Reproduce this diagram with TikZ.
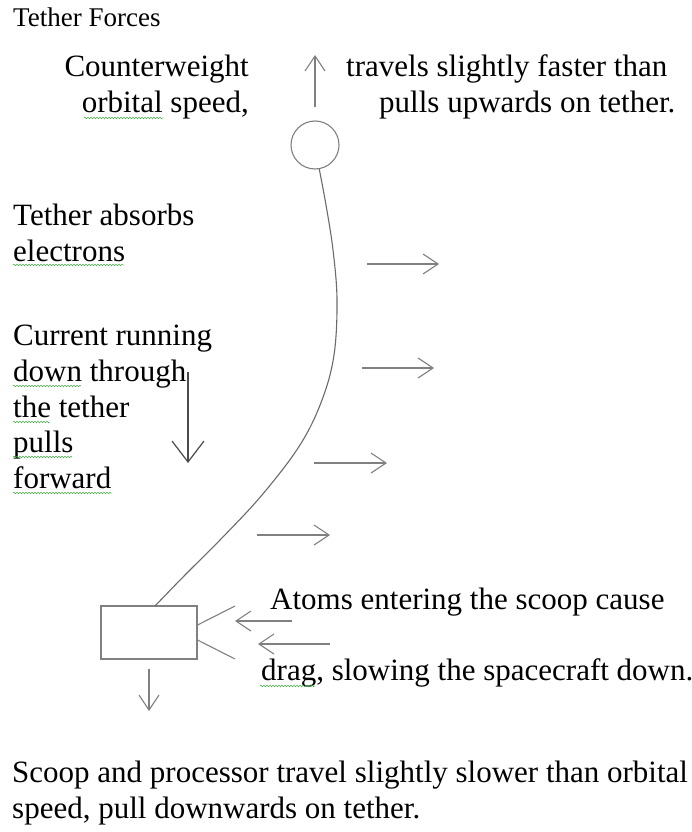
\documentclass[tikz,border=0pt]{standalone}
\usepackage{fontspec}
\setmainfont{Liberation Serif}
\usetikzlibrary{arrows.meta,decorations.pathmorphing}
\definecolor{lncol}{gray}{0.5}
\definecolor{tethcol}{gray}{0.42}
\definecolor{curcol}{gray}{0.3}
\definecolor{sqcol}{RGB}{70,175,70}
\begin{document}
\begin{tikzpicture}[x=1pt,y=-1pt,
  txt/.style={inner sep=0pt, anchor=base west, font=\fontsize{31}{36}\selectfont},
  txtr/.style={txt, anchor=base east},
  ttl/.style={inner sep=0pt, anchor=base west, font=\fontsize{27}{32}\selectfont},
  ln/.style={draw=lncol, line width=1.1pt},
  arr/.style={ln, -{Straight Barb[length=15pt,width=20pt,line width=1.1pt]}},
  bigarr/.style={draw=curcol, line width=1.2pt, -{Straight Barb[length=21pt,width=32pt,line width=1.2pt]}},
  tether/.style={draw=tethcol, line width=1.1pt},
  squig/.style={draw=sqcol, line width=0.5pt, decorate, decoration={snake, segment length=3pt, amplitude=0.8pt}}
]
\fill[white] (0,0) rectangle (692,832);
\useasboundingbox (0,0) rectangle (692,832);

% title
\node[ttl] (title) at (13,27) {Tether Forces};

% top texts
\node[txtr] (cw1) at (249,77) {Counterweight};
\node[txtr] (cw2) at (249,113) {orbital speed,};
\node[txt] (tr1) at (346,77) {travels slightly faster than};
\node[txt] (tr2) at (379,113) {pulls upwards on tether.};

% counterweight
\node[circle, ln, minimum size=48pt, inner sep=0pt] (cw) at (315,145) {};
\coordinate (uptip) at (315,55);
\draw[arr] ([yshift=13pt]cw.north) -- (uptip);

% left texts
\node[txt] (ta1) at (13,225) {Tether absorbs};
\node[txt] (ta2) at (13,261) {electrons};
\node[txt] (cr1) at (13,345) {Current running};
\node[txt] (cr2) at (13,381) {down through};
\node[txt] (cr3) at (13,417) {the tether};
\node[txt] (cr4) at (13,452) {pulls};
\node[txt] (cr5) at (13,488) {forward};

% current arrow
\coordinate (ca1) at (188,372);
\coordinate (ca2) at (188,463);
\draw[bigarr] (ca1) -- (ca2);

% scoop box
\node[ln, rectangle, minimum width=96pt, minimum height=53pt, inner sep=0pt] (box) at (149,632.5) {};
\coordinate (tb) at (155,606);

% tether
\draw[tether] plot[smooth, tension=0.6] coordinates {(cw.-80) (326,205) (333,250) (337,300) (334,355) (322,400) (300,445) (262,495) (220,540) (185,575) (tb)};

% force arrows
\coordinate (f1a) at (367,264); \coordinate (f1b) at (439,264);
\coordinate (f2a) at (362,368); \coordinate (f2b) at (434,368);
\coordinate (f3a) at (314,463); \coordinate (f3b) at (387,463);
\coordinate (f4a) at (257,535); \coordinate (f4b) at (330,535);
\draw[arr] (f1a) -- (f1b);
\draw[arr] (f2a) -- (f2b);
\draw[arr] (f3a) -- (f3b);
\draw[arr] (f4a) -- (f4b);

% scoop mouth
\coordinate (s1) at (235,606);
\coordinate (s2) at (235,659);
\draw[ln] ([yshift=7.5pt]box.east) -- (s1);
\draw[ln] ([yshift=-7.5pt]box.east) -- (s2);

% drag arrows
\coordinate (d1a) at (292,621); \coordinate (d1b) at (235,621);
\coordinate (d2a) at (330,644); \coordinate (d2b) at (258,644);
\draw[arr] (d1a) -- (d1b);
\draw[arr] (d2a) -- (d2b);

% down arrow
\coordinate (dn) at (149,711);
\draw[arr] ([yshift=-9pt]box.south) -- (dn);

% scoop texts
\node[txt] (at1) at (270,609) {Atoms entering the scoop cause};
\node[txt] (at2) at (261,680) {drag, slowing the spacecraft down.};

% bottom text
\node[txt] (bt1) at (12,782) {Scoop and processor travel slightly slower than orbital};
\node[txt] (bt2) at (12,818) {speed, pull downwards on tether.};

% spell-check squiggles
\draw[squig] (84,118) -- (163,118);
\draw[squig] (13,265) -- (124,265);
\draw[squig] (13,386) -- (81,386);
\draw[squig] (13,422) -- (50,422);
\draw[squig] (13,457) -- (72,457);
\draw[squig] (13,493) -- (112,493);
\draw[squig] (260,686) -- (315,686);
\end{tikzpicture}
\end{document}
